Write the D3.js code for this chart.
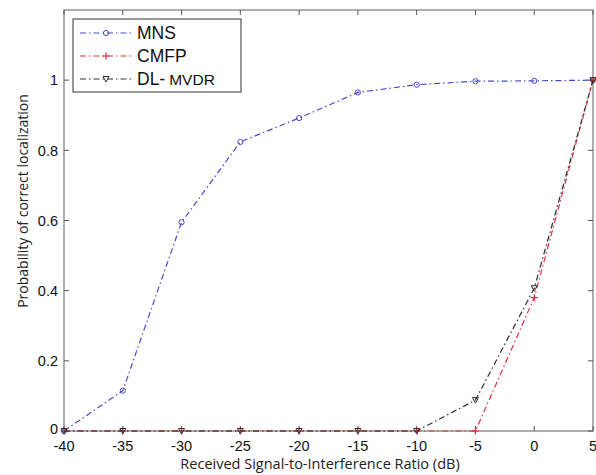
<!DOCTYPE html>
<html><head><meta charset="utf-8">
<script src="https://cdn.jsdelivr.net/npm/d3@7"></script>
<style>body{margin:0;background:#fff}svg{display:block}</style>
</head><body>
<script>
const snr = [-40,-35,-30,-25,-20,-15,-10,-5,0,5];
const mns = [0,0.115,0.595,0.824,0.892,0.965,0.987,0.997,0.998,1.0];
const cmfp = [0,0,0,0,0,0,0,0,0.38,1.0];
const dlmvdr = [0,0,0,0,0,0,0,0.088,0.407,1.0];
const xTicks = [-40,-35,-30,-25,-20,-15,-10,-5,0,5];
const yTicks = [0,0.2,0.4,0.6,0.8,1];
const seriesNames = ["MNS","CMFP","DL-"];
const seriesColors = ["#4a4ac8","#e03040","#303030"];
const seriesMarkers = ["circle","plus","tri"];

const W=596,H=475;
const L=64,R=593,T=10,B=431;
const svg=d3.select("body").append("svg").attr("width",W).attr("height",H);
const x=d3.scaleLinear().domain([-40,5]).range([L,R]);
const y=d3.scaleLinear().domain([0,1.2]).range([B,T]);
const font="Liberation Sans, Arial, sans-serif";

svg.append("rect").attr("x",L).attr("y",T).attr("width",R-L).attr("height",B-T)
  .attr("fill","none").attr("stroke","#7a7a7a").attr("stroke-width",1.2);

const tl=5;
xTicks.forEach(v=>{
  svg.append("line").attr("x1",x(v)).attr("x2",x(v)).attr("y1",B).attr("y2",B-tl).attr("stroke","#555");
  svg.append("line").attr("x1",x(v)).attr("x2",x(v)).attr("y1",T).attr("y2",T+tl).attr("stroke","#555");
  svg.append("text").attr("x",x(v)).attr("y",451).attr("text-anchor","middle")
    .attr("font-family",font).attr("font-size",14.5).attr("fill","#111").text(v);
});
yTicks.forEach(v=>{
  svg.append("line").attr("x1",L).attr("x2",L+tl).attr("y1",y(v)).attr("y2",y(v)).attr("stroke","#555");
  svg.append("line").attr("x1",R).attr("x2",R-tl).attr("y1",y(v)).attr("y2",y(v)).attr("stroke","#555");
  svg.append("text").attr("x",58).attr("y",y(v) - (v===0?2:0)).attr("dy","0.36em").attr("text-anchor","end")
    .attr("font-family",font).attr("font-size",14.5).attr("fill","#111").text(v);
});

svg.append("text").attr("x",320).attr("y",469).attr("text-anchor","middle")
  .attr("font-family","Open Sans, Noto Sans, sans-serif").attr("font-size",14.5).attr("fill","#222")
  .text("Received Signal-to-Interference Ratio (dB)");
svg.append("text").attr("transform","translate(28,201) rotate(-90)").attr("text-anchor","middle")
  .attr("font-family","Open Sans, Noto Sans, sans-serif").attr("font-size",14).attr("fill","#222")
  .text("Probability of correct localization");

const dash="6,3,1.5,3";
function marker(g,type,cx,cy,color){
  if(type==="circle") g.append("circle").attr("cx",cx).attr("cy",cy).attr("r",2.6).attr("fill","none").attr("stroke",color).attr("stroke-width",1);
  else if(type==="plus") g.append("path").attr("d",`M${cx-3.5},${cy}H${cx+3.5}M${cx},${cy-3.5}V${cy+3.5}`).attr("stroke",color).attr("stroke-width",1.2);
  else g.append("path").attr("d",`M${cx-3},${cy-2.5}L${cx+3},${cy-2.5}L${cx},${cy+3}Z`).attr("fill","none").attr("stroke",color).attr("stroke-width",1);
}
const line=d3.line().x(d=>x(d[0])).y(d=>y(d[1]));
[mns,cmfp,dlmvdr].forEach((vals,i)=>{
  const pts=snr.map((s,j)=>[s,vals[j]]);
  const g=svg.append("g");
  g.append("path").attr("d",line(pts)).attr("fill","none").attr("stroke",seriesColors[i])
    .attr("stroke-width",1.2).attr("stroke-dasharray",dash);
  pts.forEach(p=>marker(g,seriesMarkers[i],x(p[0]),y(p[1]),seriesColors[i]));
});

const lg=svg.append("g");
lg.append("rect").attr("x",73).attr("y",19).attr("width",168).attr("height",73)
  .attr("fill","#fff").attr("stroke","#333").attr("stroke-width",1);
seriesNames.forEach((n,i)=>{
  const yy=33+i*23;
  lg.append("line").attr("x1",80).attr("x2",132).attr("y1",yy).attr("y2",yy)
    .attr("stroke",seriesColors[i]).attr("stroke-width",1.2).attr("stroke-dasharray",dash);
  marker(lg,seriesMarkers[i],106,yy,seriesColors[i]);
  const t=lg.append("text").attr("x",137).attr("y",yy+6).attr("font-family",font).attr("font-size",17.5).attr("fill","#111").text(n);
  if(i===2) t.append("tspan").attr("font-size",15.5).attr("dx",4).text("MVDR");
});
</script>
</body></html>
